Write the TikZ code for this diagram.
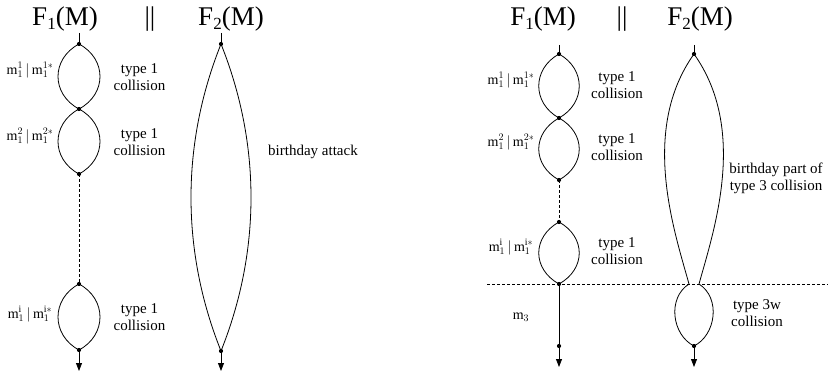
\documentclass[tikz,border=0pt]{standalone}
\usepackage{fontspec}
\setmainfont{Liberation Serif}
\usetikzlibrary{arrows.meta,calc}
\tikzset{
  ln/.style={line width=0.8pt},
  dsh/.style={line width=0.8pt, dash pattern=on 3pt off 2pt},
  arr/.style={line width=0.8pt, -{Triangle[length=8pt,width=6pt]}},
  lbl/.style={font=\fontsize{15}{17}\selectfont, align=center, inner sep=0},
  ttl/.style={font=\fontsize{27}{27}\selectfont, inner sep=0, anchor=base},
  mlbl/.style={font=\fontsize{14}{16}\selectfont, inner sep=0},
  pt/.style={fill, circle, inner sep=0, minimum size=4.2pt},
}
\newcommand\sub[1]{\raisebox{-0.12em}{\fontsize{17}{17}\selectfont #1}}
\newcommand\lensdraw[3]{\draw[ln] (#1) .. controls ($(#1)+(-#3,15)$) and ($(#2)+(-#3,-15)$) .. (#2) .. controls ($(#2)+(#3,-15)$) and ($(#1)+(#3,15)$) .. (#1);}
\begin{document}
\begin{tikzpicture}[x=1pt,y=-1pt]
\useasboundingbox (0,0) rectangle (828,374);
% ---------- left diagram ----------
\node[ttl] (t1) at (65,26) {F\sub{1}(M)};
\node[ttl] (t2) at (150,26) {||};
\node[ttl] (t3) at (231,26) {F\sub{2}(M)};
\coordinate (a0) at (79,33);
\node[pt] (a1) at (79,44) {};
\node[pt] (a2) at (79,109) {};
\node[pt] (a3) at (79,174) {};
\node[pt] (a4) at (79,284) {};
\node[pt] (a5) at (79,350) {};
\coordinate (ae) at (79,371);
\draw[ln] (a0) -- (a1.center);
\lensdraw{a1.center}{a2.center}{28}
\lensdraw{a2.center}{a3.center}{28}
\draw[dsh] (a3.center) -- (a4.center);
\lensdraw{a4.center}{a5.center}{28}
\draw[arr] (a5.center) -- (ae);
\coordinate (b0) at (221,33);
\node[pt] (b1) at (221,44) {};
\node[pt] (b2) at (221,351) {};
\coordinate (be) at (221,371);
\draw[ln] (b0) -- (b1.center);
\draw[ln] (b1.center) .. controls (181,144) and (181,251) .. (b2.center) .. controls (261,251) and (261,144) .. (b1.center);
\draw[arr] (b2.center) -- (be);
\node[mlbl] (ml1) at (30,70) {$\mathrm{m}_1^{1}\,|\,\mathrm{m}_1^{1*}$};
\node[mlbl] (ml2) at (30,136) {$\mathrm{m}_1^{2}\,|\,\mathrm{m}_1^{2*}$};
\node[mlbl] (ml3) at (30,314) {$\mathrm{m}_1^{\mathrm{i}}\,|\,\mathrm{m}_1^{\mathrm{i}*}$};
\node[lbl] (l1) at (139.5,77) {type 1\\collision};
\node[lbl] (l2) at (139.5,142) {type 1\\collision};
\node[lbl] (l3) at (139.5,317) {type 1\\collision};
\node[lbl] (l4) at (313,152) {birthday attack};
% ---------- right diagram ----------
\node[ttl] (u1) at (543,26) {F\sub{1}(M)};
\node[ttl] (u2) at (622,26) {||};
\node[ttl] (u3) at (700,26) {F\sub{2}(M)};
\coordinate (c0) at (559,45);
\node[pt] (c1) at (559,54) {};
\node[pt] (c2) at (559,118) {};
\node[pt] (c3) at (559,180) {};
\node[pt] (c4) at (559,222) {};
\node[pt] (c5) at (559,284) {};
\node[pt] (c6) at (559,346) {};
\coordinate (ce) at (559,367);
\draw[ln] (c0) -- (c1.center);
\lensdraw{c1.center}{c2.center}{27}
\lensdraw{c2.center}{c3.center}{27}
\draw[dsh] (c3.center) -- (c4.center);
\lensdraw{c4.center}{c5.center}{27}
\draw[ln] (c5.center) -- (c6.center);
\draw[arr] (c6.center) -- (ce);
\coordinate (h0) at (487,284);
\coordinate (h1) at (828,284);
\draw[dsh] (h0) -- (h1);
\coordinate (d0) at (694,45);
\node[pt] (d1) at (694,54) {};
\coordinate (dl) at (689,284);
\coordinate (dr) at (699,284);
\node[pt] (d2) at (694,346) {};
\coordinate (de) at (694,367);
\draw[ln] (d0) -- (d1.center);
\draw[ln] (d1.center) .. controls (640,130) and (674,230) .. (dl);
\draw[ln] (d1.center) .. controls (748,130) and (714,230) .. (dr);
\draw[ln] (dl) .. controls (667,298) and (672,335) .. (d2.center) .. controls (716,335) and (721,298) .. (dr);
\draw[arr] (d2.center) -- (de);
\node[mlbl] (n1) at (511,80) {$\mathrm{m}_1^{1}\,|\,\mathrm{m}_1^{1*}$};
\node[mlbl] (n2) at (511,142) {$\mathrm{m}_1^{2}\,|\,\mathrm{m}_1^{2*}$};
\node[mlbl] (n3) at (511,247) {$\mathrm{m}_1^{\mathrm{i}}\,|\,\mathrm{m}_1^{\mathrm{i}*}$};
\node[mlbl] (n4) at (521,317) {$\mathrm{m}_3$};
\node[lbl] (k1) at (617,85) {type 1\\collision};
\node[lbl] (k2) at (617,147) {type 1\\collision};
\node[lbl] (k3) at (617,251) {type 1\\collision};
\node[lbl] (k4) at (776,178) {birthday part of\\type 3 collision};
\node[lbl] (k5) at (757,313) {type 3w\\collision};
\end{tikzpicture}
\end{document}
